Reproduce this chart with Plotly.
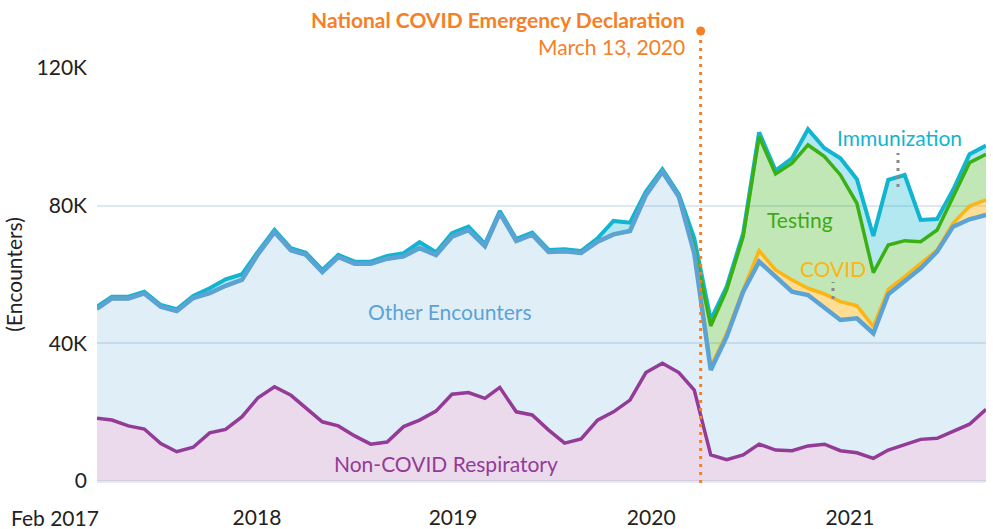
import numpy as np
import pandas as pd
import plotly.graph_objects as go

months = pd.date_range("2017-02-01", "2021-09-01", freq="MS")

non_covid_resp = [18200, 17700, 16000, 15100, 10900, 8500, 9800, 14000, 15000, 18700,
                  24200, 27400, 24900, 21100, 17200, 16000, 13100, 10700, 11300, 15800,
                  17700, 20300, 25200, 25700, 24000, 27200, 20100, 19200, 14800, 11000,
                  12200, 17700, 20100, 23500, 31500, 34200, 31500, 26400, 7600, 6200,
                  7600, 10700, 9000, 8800, 10200, 10700, 8800, 8200, 6600, 9000,
                  10700, 12100, 12400, 14500, 16500, 20800]
other = [31850, 35360, 37060, 39410, 39750, 40890, 43360, 40600, 41710, 39770,
         41740, 44940, 42120, 44650, 43520, 49080, 50030, 52430, 53290, 49470,
         49970, 45360, 45780, 47200, 44270, 50660, 49630, 52360, 51730, 55730,
         54040, 51830, 51560, 49160, 51570, 55680, 51110, 39730, 24660, 35730,
         47410, 53030, 50370, 46210, 43850, 39480, 37990, 39080, 36320, 45250,
         47220, 49710, 54240, 59400, 59550, 56500]
covid = [0] * 37 + [100, 960, 990, 490, 3200, 1950, 3400, 1950, 4160, 5320, 3660,
                    1920, 1460, 1450, 1450, 490, 990, 3870, 4360]
testing = [0] * 37 + [1500, 11820, 12580, 15500, 33120, 27890, 33910, 41640, 39900,
                      36810, 29760, 15690, 12870, 10460, 6280, 5810, 7730, 12580, 13280]
immunization = [600, 500, 500, 500, 500, 500, 600, 1400, 1900, 1600,
                700, 600, 600, 600, 600, 600, 600, 600, 800, 900,
                1700, 800, 1000, 1000, 600, 600, 600, 600, 600, 600,
                600, 1000, 3900, 2400, 1000, 700, 700, 2800, 1750, 970,
                980, 1280, 960, 1460, 4560, 2440, 4860, 6970, 10670, 18890,
                19090, 6310, 3200, 1940, 2440, 2500]

y_tickvals = [0, 40000, 80000, 120000]
y_ticktext = ["0", "40K", "80K", "120K"]
x_tickvals = ["2017-11-29", "2018-12-03", "2019-12-11", "2020-12-19"]
x_ticktext = ["2018", "2019", "2020", "2021"]
declaration_date = "2020-03-13"

FONT = "Lato"
FS = 21
series = [
    ("Non-COVID Respiratory", non_covid_resp, "#933b97", "rgba(147,59,151,0.19)", 3.5),
    ("Other Encounters", other, "#5ba3d5", "rgba(91,163,213,0.19)", 4.5),
    ("COVID", covid, "#fdb515", "rgba(253,181,21,0.45)", 3.5),
    ("Testing", testing, "#3bb014", "rgba(59,176,20,0.31)", 3.5),
    ("Immunization", immunization, "#11b5d1", "rgba(17,181,209,0.315)", 4),
]

fig = go.Figure()
for name, vals, lc, fc, lw in series:
    fig.add_trace(go.Scatter(x=months, y=vals, stackgroup="one", mode="none",
                             fillcolor=fc, name=name, hoverinfo="skip", showlegend=False))

cum = np.cumsum(np.array([s[1] for s in series], dtype=float), axis=0)
draw_order = [4, 3, 2, 1, 0]
for i in draw_order:
    name, vals, lc, fc, lw = series[i]
    fig.add_trace(go.Scatter(x=months, y=cum[i], mode="lines",
                             line=dict(color=lc, width=lw, shape="linear"),
                             hoverinfo="skip", showlegend=False))

# declaration line with a dot at its top
fig.add_shape(type="line", xref="x", yref="paper", x0=declaration_date, x1=declaration_date,
              y0=-0.005, y1=(481 - 33) / 413, line=dict(color="#f58025", width=3, dash="3px,5px"),
              layer="above")
fig.add_shape(type="circle", xref="x", yref="paper", xsizemode="pixel", ysizemode="pixel",
              xanchor=declaration_date, yanchor=(481 - 31) / 413,
              x0=-4.5, x1=4.5, y0=-4.5, y1=4.5,
              fillcolor="#f58025", line=dict(width=0), layer="above")

# leader dots
fig.add_shape(type="line", xref="paper", yref="paper", x0=(898 - 97) / 889, x1=(898 - 97) / 889,
              y0=(481 - 187) / 413, y1=(481 - 153) / 413,
              line=dict(color="#888888", width=3, dash="3px,5px"), layer="above")
fig.add_shape(type="line", xref="paper", yref="paper", x0=(833 - 97) / 889, x1=(833 - 97) / 889,
              y0=(481 - 299) / 413, y1=(481 - 282) / 413,
              line=dict(color="#888888", width=3, dash="3px,5px"), layer="above")

def ann(text, px, py, color, size=FS, anchor="center", weight="normal"):
    fig.add_annotation(text=text, xref="paper", yref="paper",
                       x=(px - 97) / 889, y=(481 - py) / 413, xanchor=anchor, yanchor="middle",
                       showarrow=False, font=dict(family=FONT, size=size, color=color, weight=weight))

ann("Other Encounters", 450, 311, "#5ba3d5")
ann("Non-COVID Respiratory", 446, 463, "#933b97")
ann("Testing", 800, 220, "#3bab14")
ann("COVID", 833, 268, "#fdb515")
ann("Immunization", 899, 137, "#11b5d1")
ann("National COVID Emergency Declaration", 687, 20, "#f58025", anchor="right", weight="bold")
ann("March 13, 2020", 687, 46, "#f58025", anchor="right")

fig.add_annotation(text="Feb 2017", xref="x", yref="paper", x=months[0], xshift=4,
                   y=(481 - 517) / 413, xanchor="right", yanchor="middle", showarrow=False,
                   font=dict(family=FONT, size=FS, color="#222222"))

fig.update_layout(
    width=993, height=529,
    margin=dict(l=97, r=7, t=68, b=48, autoexpand=False),
    paper_bgcolor="white", plot_bgcolor="white",
    font=dict(family=FONT, size=FS, color="#222222"),
    xaxis=dict(type="date", range=[months[0], months[-1]], tickvals=x_tickvals, ticktext=x_ticktext,
               showgrid=False, zeroline=False, showline=False, ticks="", ticklabelstandoff=22,
               automargin=False,
               tickfont=dict(family=FONT, size=FS, color="#222222"), fixedrange=True),
    yaxis=dict(range=[0, 120000], tickvals=y_tickvals, ticktext=y_ticktext,
               showgrid=True, gridcolor="#dfe8ee", gridwidth=2,
               zeroline=True, zerolinecolor="#e3ebf0", zerolinewidth=3,
               showline=False, ticks="", ticklabelstandoff=9, automargin=False,
               tickfont=dict(family=FONT, size=FS, color="#222222"),
               title=dict(text="(Encounters)", standoff=8, font=dict(family=FONT, size=FS, color="#222222")),
               fixedrange=True),
)

fig.write_html("out.html", config={"displayModeBar": False},
               post_script="document.body.style.margin='0px';")
